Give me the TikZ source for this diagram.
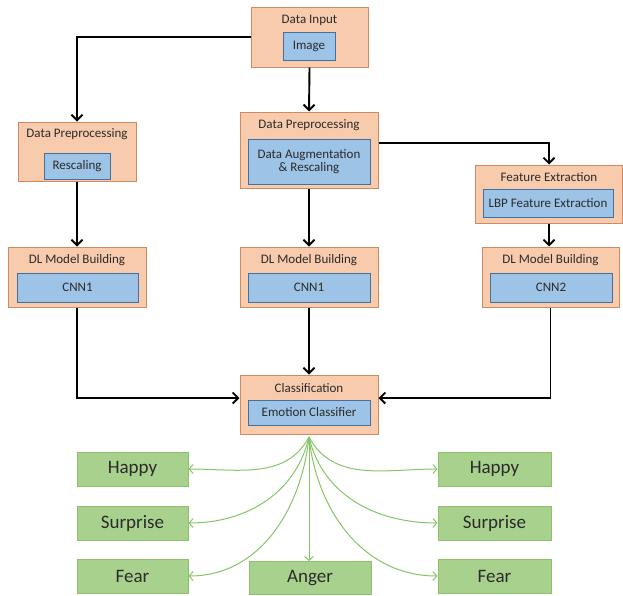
\documentclass[tikz,border=0pt]{standalone}
\usepackage{fontspec}
\setmainfont{Carlito}
\usetikzlibrary{arrows.meta}
\definecolor{ofill}{HTML}{F8CBAD}
\definecolor{odraw}{HTML}{D08A62}
\definecolor{bfill}{HTML}{9DC3E6}
\definecolor{bdraw}{HTML}{41719C}
\definecolor{gfill}{HTML}{A9D18E}
\definecolor{gdraw}{HTML}{8CC26A}
\definecolor{garrow}{HTML}{86C467}
\definecolor{txt}{HTML}{2B2B2B}
\tikzset{
  outerbox/.style={draw=odraw, fill=ofill, line width=1pt, inner sep=0pt},
  innerbox/.style={draw=bdraw, fill=bfill, line width=1pt, inner sep=0pt, align=center, font=\fontsize{13}{14}\selectfont, text=txt},
  titletext/.style={font=\fontsize{13}{14}\selectfont, text=txt, inner sep=0pt},
  emobox/.style={draw=gdraw, fill=gfill, line width=1pt, inner sep=0pt, font=\fontsize{19}{20}\selectfont, text=txt},
  flow/.style={line width=1.9pt, -{Straight Barb[length=5.5pt,width=11pt,line width=1.9pt]}},
  emo/.style={draw=garrow, line width=1pt, -{Straight Barb[length=4pt,width=9pt]}}
}
\begin{document}
\begin{tikzpicture}[x=1pt,y=-1pt]
\useasboundingbox (0,0) rectangle (623,595);
% Data input
\node[outerbox, minimum width=117pt, minimum height=60pt] (din) at (309.5,37) {};
\node[titletext] (dint) at (309.5,20) {Data Input};
\node[innerbox, minimum width=52pt, minimum height=28pt] (img) at (309,46) {Image};
% Left preprocessing
\node[outerbox, minimum width=118pt, minimum height=59pt] (lpre) at (77,151.5) {};
\node[titletext] (lpret) at (77,134) {Data Preprocessing};
\node[innerbox, minimum width=66pt, minimum height=26pt] (lres) at (77,166) {Rescaling};
% Middle preprocessing
\node[outerbox, minimum width=138pt, minimum height=76pt] (mpre) at (309,150) {};
\node[titletext] (mpret) at (309,125) {Data Preprocessing};
\node[innerbox, minimum width=122pt, minimum height=45pt] (maug) at (309,161.5) {Data Augmentation\\[-1pt]\& Rescaling};
% Feature extraction
\node[outerbox, minimum width=147pt, minimum height=58pt] (fe) at (549,194) {};
\node[titletext] (fet) at (549,177) {Feature Extraction};
\node[innerbox, minimum width=130pt, minimum height=28pt] (lbp) at (548,203) {LBP Feature Extraction};
% DL model building
\node[outerbox, minimum width=138pt, minimum height=60pt] (ldl) at (77,277) {};
\node[titletext] (ldlt) at (77,260) {DL Model Building};
\node[innerbox, minimum width=121pt, minimum height=29pt] (lcnn) at (77.5,287.5) {CNN1};
\node[outerbox, minimum width=138pt, minimum height=60pt] (mdl) at (309,277) {};
\node[titletext] (mdlt) at (309,260) {DL Model Building};
\node[innerbox, minimum width=122pt, minimum height=29pt] (mcnn) at (309,287.5) {CNN1};
\node[outerbox, minimum width=137pt, minimum height=60pt] (rdl) at (550.5,277) {};
\node[titletext] (rdlt) at (550.5,260) {DL Model Building};
\node[innerbox, minimum width=122pt, minimum height=29pt] (rcnn) at (551,287.5) {CNN2};
% Classification
\node[outerbox, minimum width=138pt, minimum height=59pt] (cls) at (309,404.5) {};
\node[titletext] (clst) at (309,388) {Classification};
\node[innerbox, minimum width=122pt, minimum height=25pt] (emc) at (309,412.5) {Emotion Classifier};
% Emotion boxes
\node[emobox, minimum width=111pt, minimum height=34pt] (lh) at (132.5,469) {Happy};
\node[emobox, minimum width=111pt, minimum height=34pt] (ls) at (132.5,523) {Surprise};
\node[emobox, minimum width=111pt, minimum height=34pt] (lf) at (132.5,576) {Fear};
\node[emobox, minimum width=113pt, minimum height=34pt] (rh) at (494.5,469) {Happy};
\node[emobox, minimum width=113pt, minimum height=34pt] (rs) at (494.5,523) {Surprise};
\node[emobox, minimum width=113pt, minimum height=34pt] (rf) at (494.5,576) {Fear};
\node[emobox, minimum width=122pt, minimum height=33pt] (ang) at (310,578) {Anger};
% Flow arrows
\draw[flow] (din.west |- 0,37) -| (lpre.north);
\draw[flow] (din.south) -- (mpre.north);
\draw[flow] (mpre.east |- 0,143) -| (fe.north);
\draw[flow] (lpre.south) -- (ldl.north);
\draw[flow] (mpre.south) -- (mdl.north);
\draw[flow] (fe.south) -- (fe.south |- rdl.north);
\draw[flow] (mdl.south) -- (cls.north);
\draw[flow] (ldl.south) |- (cls.west |- 0,398);
\draw[flow] (rdl.south) |- (cls.east |- 0,398);
% Emotion arrows
\coordinate (src) at (309,437);
\draw[emo] (src) to[out=-118,in=0] (lh.east);
\draw[emo] (src) to[out=-103,in=0] (ls.east);
\draw[emo] (src) to[out=-96,in=0] (lf.east);
\draw[emo] (src) to[out=-62,in=180] (rh.west);
\draw[emo] (src) to[out=-77,in=180] (rs.west);
\draw[emo] (src) to[out=-84,in=180] (rf.west);
\draw[emo] (src) -- (src |- ang.north);
\end{tikzpicture}
\end{document}
